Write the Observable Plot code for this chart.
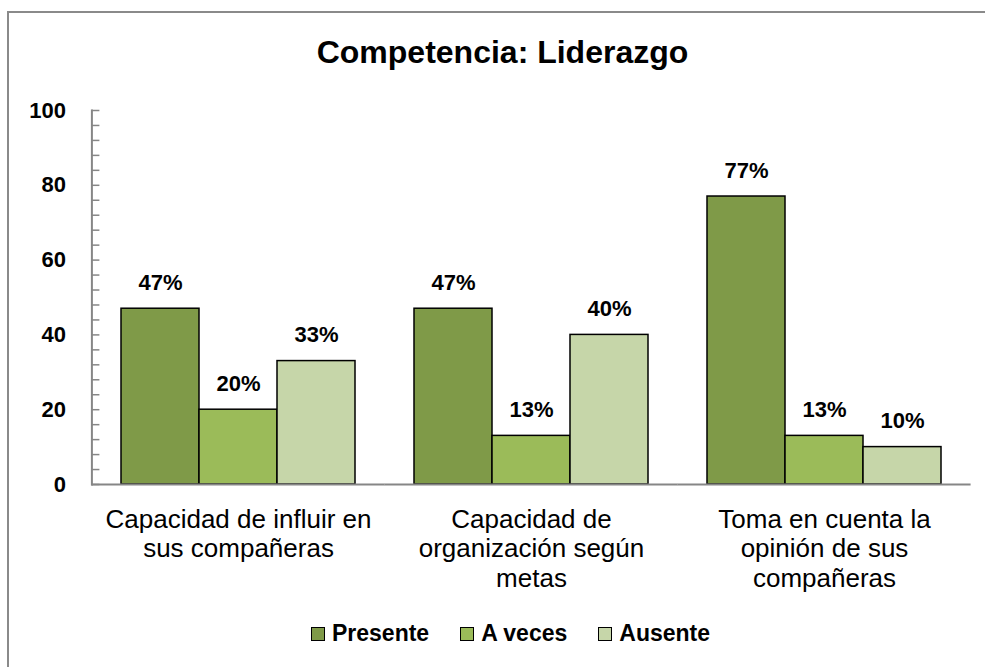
<!DOCTYPE html>
<html>
<head>
<meta charset="utf-8">
<script src="https://cdn.jsdelivr.net/npm/d3@7"></script>
<script src="https://cdn.jsdelivr.net/npm/@observablehq/plot@0.6"></script>
<style>
  html, body { margin: 0; padding: 0; background: #fff; width: 985px; height: 667px; overflow: hidden; }
  #frame { position: absolute; left: 7px; top: 11px; width: 1000px; height: 700px; border: 2px solid #8a8a8a; box-sizing: border-box; }
  #title { position: absolute; left: 10px; width: 985px; top: 36px; text-align: center; font: bold 32px "Liberation Sans", Arial, sans-serif; line-height: 32px; color: #000; }
  #chart { position: absolute; left: 0; top: 0; }
  #legend { position: absolute; left: 311px; top: 622px; display: flex; align-items: center; font: bold 23px "Liberation Sans", Arial, sans-serif; line-height: 23px; color: #000; }
  .item { display: flex; align-items: center; margin-right: 31px; }
  .sw { width: 12px; height: 12px; border: 1.5px solid #000; margin-right: 7px; }
</style>
</head>
<body>
<div id="frame"></div>
<div id="chart"></div>
<div id="title">Competencia: Liderazgo</div>
<div id="legend"></div>
<script>
const categories = [
  "Capacidad de influir en\nsus compañeras",
  "Capacidad de\norganización según\nmetas",
  "Toma en cuenta la\nopinión de sus\ncompañeras"
];
const seriesNames = ["Presente", "A veces", "Ausente"];
const presente = [47, 47, 77];
const aVeces = [20, 13, 13];
const ausente = [33, 40, 10];
const colors = ["#7f9a48", "#9bbb59", "#c6d6a9"];
const yTicks = [0, 20, 40, 60, 80, 100];
const yMinorTicks = d3.range(0, 101, 4);

const seriesValues = [presente, aVeces, ausente];
const data = categories.flatMap((c, i) =>
  seriesNames.map((s, j) => ({ cat: c, series: s, value: seriesValues[j][i] }))
);

// layout
const W = 985, H = 620, mL = 91, mR = 14, mT = 110, mB = 136;
const padIn = 0.195, padOut = 0.0975;
const step = (W - mL - mR) / (categories.length - padIn + 2 * padOut);
const axisShift = -step * padOut; // distance from a facet's edge to the band boundary

const plot = Plot.plot({
  width: W,
  height: H,
  marginTop: mT,
  marginLeft: mL,
  marginRight: mR,
  marginBottom: mB,
  style: { fontFamily: "'Liberation Sans', Arial, sans-serif", color: "#000", background: "transparent", overflow: "visible" },
  fx: { domain: categories, paddingInner: padIn, paddingOuter: padOut, label: null },
  x: { domain: seriesNames, padding: 0, axis: null },
  y: { domain: [0, 100], axis: null },
  color: { domain: seriesNames, range: colors },
  marks: [
    Plot.barY(data, { fx: "cat", x: "series", y: "value", fill: "series", stroke: "#000", strokeWidth: 1.5 }),
    Plot.text(data, { fx: "cat", x: "series", y: "value", text: d => d.value + "%", dy: -26, fontSize: 22, fontWeight: "bold", fill: "#000" }),
    Plot.axisFx({ anchor: "bottom", tickSize: 0, tickPadding: 22, fontSize: 26, lineHeight: 1.14, label: null, fill: "#000" }),
    Plot.ruleY([0], { stroke: "#868686", strokeWidth: 2, insetLeft: axisShift, insetRight: axisShift }),
    Plot.frame({ anchor: "left", facetAnchor: "left", stroke: "#868686", strokeWidth: 2, dx: axisShift }),
    Plot.axisY({ ticks: yMinorTicks, tickSize: -8, text: null, stroke: "#868686", strokeWidth: 1.5, label: null, dx: axisShift }),
    Plot.axisY({ ticks: yTicks, tickSize: 0, tickPadding: 26, fontSize: 22, fontWeight: "bold", label: null, fill: "#000", dx: axisShift })
  ]
});
document.getElementById("chart").appendChild(plot);

const legend = document.getElementById("legend");
seriesNames.forEach((s, i) => {
  const item = document.createElement("div");
  item.className = "item";
  const sw = document.createElement("div");
  sw.className = "sw";
  sw.style.background = colors[i];
  const t = document.createElement("span");
  t.textContent = s;
  item.appendChild(sw);
  item.appendChild(t);
  legend.appendChild(item);
});
</script>
</body>
</html>
